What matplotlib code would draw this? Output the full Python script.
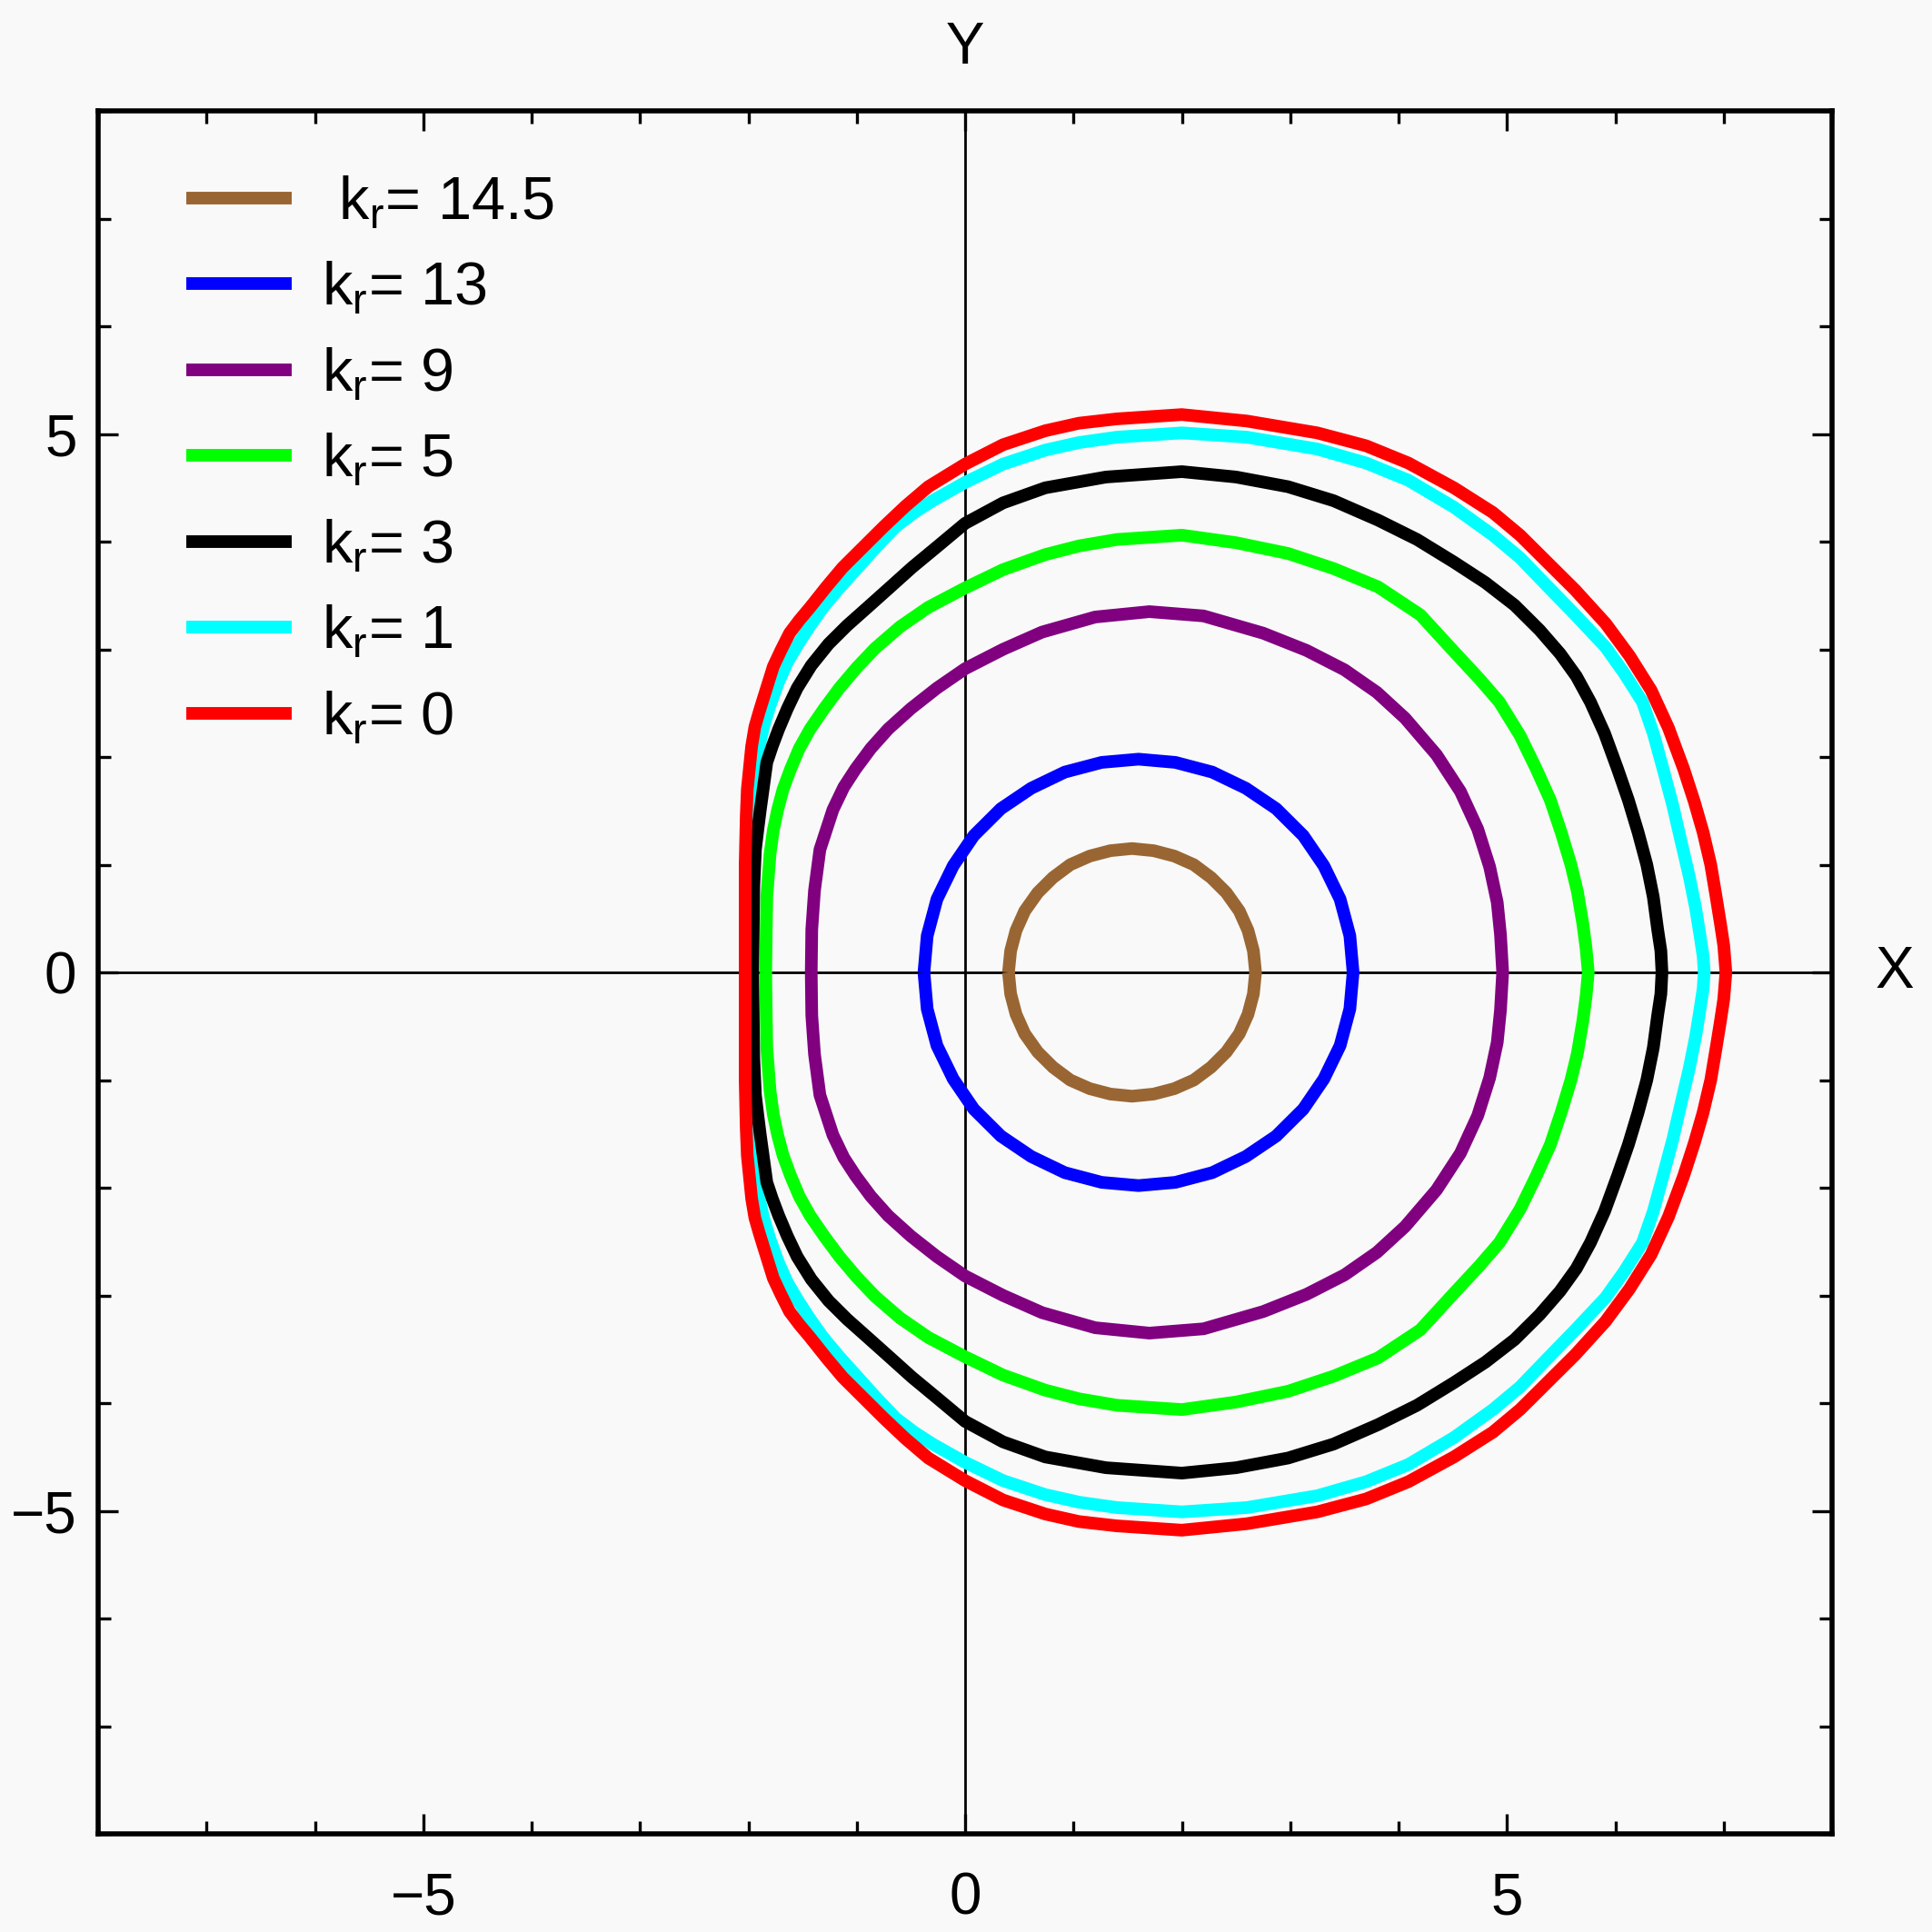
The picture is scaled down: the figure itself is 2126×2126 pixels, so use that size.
import numpy as np
import matplotlib
matplotlib.use("Agg")
import matplotlib.pyplot as plt
from matplotlib.ticker import MultipleLocator

plt.rcParams["font.family"] = ["Liberation Sans", "DejaVu Sans"]

# upper halves of the shadow contours, mirrored about the X axis
BROWN_X = [0.40, 0.42, 0.47, 0.55, 0.67, 0.81, 0.97, 1.15, 1.34, 1.54,
           1.74, 1.93, 2.11, 2.27, 2.41, 2.53, 2.61, 2.66, 2.68]
BROWN_Y = [0.00, 0.20, 0.39, 0.57, 0.74, 0.88, 1.00, 1.08, 1.13, 1.15,
           1.13, 1.08, 1.00, 0.88, 0.74, 0.57, 0.39, 0.20, 0.00]

BLUE_X = [-0.38, -0.35, -0.26, -0.11, 0.08, 0.33, 0.61, 0.92, 1.26, 1.60,
          1.94, 2.28, 2.59, 2.87, 3.12, 3.31, 3.46, 3.55, 3.58]
BLUE_Y = [0.00, 0.34, 0.68, 0.99, 1.27, 1.52, 1.71, 1.86, 1.95, 1.98,
          1.95, 1.86, 1.71, 1.52, 1.27, 0.99, 0.68, 0.34, 0.00]

PURPLE_X = [-1.42, -1.415, -1.39, -1.34, -1.22, -1.12, -1.01, -0.87, -0.71, -0.50, -0.26,
            0.00, 0.35, 0.71, 1.20, 1.70, 2.20, 2.75, 3.15, 3.50, 3.80, 4.06, 4.35,
            4.57, 4.73, 4.84, 4.91, 4.94, 4.96]
PURPLE_Y = [0.00, 0.40, 0.76, 1.14, 1.51, 1.72, 1.89, 2.08, 2.26, 2.45, 2.64,
            2.82, 3.00, 3.16, 3.30, 3.35, 3.31, 3.15, 2.99, 2.81, 2.60, 2.36, 2.02,
            1.68, 1.33, 0.98, 0.65, 0.35, 0.00]

GREEN_X = [-1.84, -1.835, -1.83, -1.80, -1.77, -1.73, -1.68, -1.61, -1.53, -1.43, -1.30,
           -1.16, -1.00, -0.83, -0.60, -0.34, 0.00, 0.35, 0.74, 1.05, 1.40, 2.00, 2.50,
           2.98, 3.40, 3.81, 4.20, 4.51, 4.75, 4.93, 5.12, 5.27, 5.40, 5.50, 5.59, 5.65,
           5.70, 5.73, 5.75]
GREEN_Y = [0.00, 0.40, 0.70, 1.10, 1.32, 1.51, 1.70, 1.89, 2.08, 2.26, 2.45,
           2.64, 2.83, 3.01, 3.21, 3.39, 3.57, 3.74, 3.88, 3.96, 4.02, 4.06, 3.99,
           3.89, 3.75, 3.58, 3.32, 2.98, 2.72, 2.51, 2.20, 1.89, 1.60, 1.30, 1.00, 0.75,
           0.45, 0.22, 0.00]

BLACK_X = [-1.96, -1.955, -1.95, -1.935, -1.91, -1.89, -1.86, -1.83, -1.78, -1.72, -1.64,
           -1.55, -1.42, -1.26, -1.09, -0.90, -0.70, -0.49, -0.25, 0.00, 0.35, 0.74, 1.30,
           2.00, 2.50, 2.98, 3.40, 3.81, 4.17, 4.51, 4.80, 5.07, 5.30, 5.49, 5.64, 5.77,
           5.90, 6.02, 6.12, 6.21, 6.29, 6.35, 6.39, 6.42, 6.43]
BLACK_Y = [0.00, 0.40, 0.80, 1.14, 1.35, 1.51, 1.73, 1.95, 2.10, 2.26, 2.45,
           2.64, 2.85, 3.05, 3.22, 3.39, 3.57, 3.76, 3.96, 4.17, 4.36, 4.50, 4.60,
           4.65, 4.60, 4.51, 4.38, 4.20, 4.02, 3.81, 3.62, 3.41, 3.18, 2.96, 2.75, 2.51,
           2.22, 1.89, 1.60, 1.30, 1.00, 0.70, 0.40, 0.20, 0.00]

CYAN_X = [-2.00, -2.00, -1.995, -1.98, -1.96, -1.94, -1.90, -1.86, -1.80, -1.72, -1.64,
          -1.54, -1.43, -1.31, -1.16, -0.99, -0.82, -0.64, -0.47, -0.30, 0.00, 0.35, 0.74,
          1.05, 1.40, 2.00, 2.60, 3.25, 3.70, 4.09, 4.51, 4.87, 5.12, 5.35, 5.63, 5.91,
          6.08, 6.25, 6.35, 6.44, 6.53, 6.61, 6.68, 6.74, 6.78, 6.81, 6.82]
CYAN_Y = [0.00, 0.50, 1.00, 1.40, 1.65, 1.90, 2.10, 2.28, 2.48, 2.70, 2.88,
          3.05, 3.22, 3.39, 3.57, 3.76, 3.95, 4.14, 4.27, 4.38, 4.55, 4.72, 4.85,
          4.92, 4.97, 5.01, 4.97, 4.86, 4.73, 4.57, 4.32, 4.06, 3.85, 3.61, 3.32, 3.02,
          2.78, 2.51, 2.22, 1.89, 1.55, 1.20, 0.90, 0.60, 0.35, 0.15, 0.00]

RED_X = [-2.03, -2.03, -2.03, -2.02, -2.01, -1.99, -1.97, -1.94, -1.90, -1.86, -1.77,
         -1.70, -1.62, -1.53, -1.43, -1.28, -1.13, -0.94, -0.75, -0.55, -0.34, 0.00,
         0.35, 0.74, 1.05, 1.40, 2.00, 2.60, 3.25, 3.70, 4.09, 4.51, 4.87, 5.12, 5.35,
         5.63, 5.91, 6.13, 6.33, 6.49, 6.63, 6.73, 6.81, 6.88, 6.93, 6.97, 7.00, 7.02]
RED_Y = [0.00, 0.50, 1.00, 1.45, 1.70, 1.90, 2.10, 2.28, 2.42, 2.55, 2.84,
         2.99, 3.15, 3.27, 3.39, 3.58, 3.76, 3.95, 4.14, 4.33, 4.51, 4.72,
         4.90, 5.03, 5.10, 5.14, 5.18, 5.12, 5.01, 4.89, 4.73, 4.50, 4.27, 4.06, 3.83,
         3.55, 3.24, 2.94, 2.62, 2.27, 1.89, 1.58, 1.30, 1.00, 0.70, 0.45, 0.25, 0.00]

KR_VALUES = ["14.5", "13", "9", "5", "3", "1", "0"]
CURVES = [(BROWN_X, BROWN_Y), (BLUE_X, BLUE_Y), (PURPLE_X, PURPLE_Y), (GREEN_X, GREEN_Y),
          (BLACK_X, BLACK_Y), (CYAN_X, CYAN_Y), (RED_X, RED_Y)]
COLORS = ["#996633", "#0000ff", "#800080", "#00ff00", "#000000", "#00ffff", "#ff0000"]
ZORDERS = [3, 4, 5, 6, 8, 7, 9]

BG = "#f9f9f9"
fig = plt.figure(figsize=(10.63, 10.63), dpi=200, facecolor=BG)
ax = fig.add_axes([0.0508, 0.0508, 0.8975, 0.8918], facecolor=BG)

ax.axhline(0, color="black", lw=1.0, zorder=1)
ax.axvline(0, color="black", lw=1.0, zorder=1)

handles = []
for i, ((xs, ys), col, kr, zo) in enumerate(zip(CURVES, COLORS, KR_VALUES, ZORDERS)):
    xs = np.asarray(xs)
    ys = np.asarray(ys)
    x_full = np.concatenate([xs, xs[::-1][1:]])
    y_full = np.concatenate([ys, -ys[::-1][1:]])
    lead = " " if i == 0 else ""
    h, = ax.plot(x_full, y_full, color=col, lw=5.0, solid_joinstyle="round",
                 solid_capstyle="butt", zorder=zo,
                 label=lead + r"$\mathregular{k_r}$= " + kr)
    handles.append(h)

ax.set_xlim(-8, 8)
ax.set_ylim(-8, 8)
ax.xaxis.set_major_locator(MultipleLocator(5))
ax.xaxis.set_minor_locator(MultipleLocator(1))
ax.yaxis.set_major_locator(MultipleLocator(5))
ax.yaxis.set_minor_locator(MultipleLocator(1))
ax.tick_params(which="both", direction="in", top=True, right=True, width=1.2)
ax.tick_params(which="major", length=8)
ax.tick_params(which="minor", length=5)
ax.tick_params(axis="x", labelsize=23, pad=15)
ax.tick_params(axis="y", labelsize=23, pad=8.5)
for sp in ax.spines.values():
    sp.set_linewidth(2.0)

ax.text(8.58, 0, "X", fontsize=23, ha="center", va="center", clip_on=False)
ax.text(0, 8.58, "Y", fontsize=23, ha="center", va="center", clip_on=False)

ax.legend(handles=handles, loc="upper left", bbox_to_anchor=(0.051, 0.9628),
          frameon=False, fontsize=24, handlelength=1.73, handletextpad=0.5,
          labelspacing=0.48, borderaxespad=0, borderpad=0)

fig.savefig("out.png", dpi=200, facecolor=BG)
